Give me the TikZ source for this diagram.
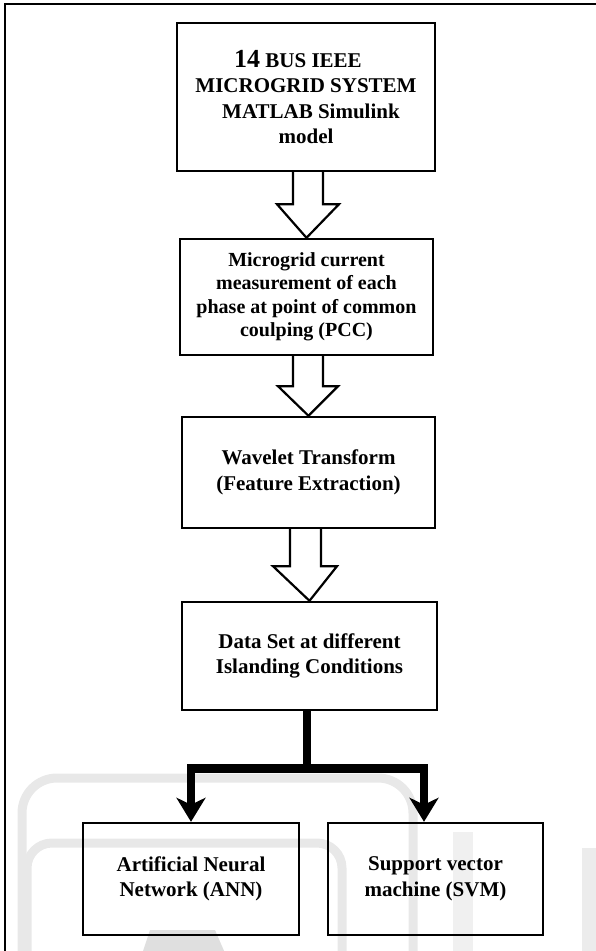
\documentclass[tikz,border=0pt]{standalone}
\usepackage{fontspec}
\setmainfont{Liberation Serif}
\usepackage{tikz}
\usetikzlibrary{positioning, calc, arrows.meta}
\tikzset{
	block/.style={draw, line width=2.4pt, inner sep=0pt, align=center, font=\bfseries\fontsize{21}{25.5}\selectfont},
	hollow/.style={line width=2.2pt, line join=miter},
	branch/.style={line width=8.5pt, line join=miter},
	branchtip/.style={-{Stealth[width=29pt, length=24pt, inset=7pt]}},
	wmline/.style={draw=gray!18, line width=9pt},
}

\begin{document}
\begin{tikzpicture}[x=1pt, y=-1pt]
			\useasboundingbox (0,0) rectangle (595,951);

			% faint page marks behind the chart
			\draw[wmline, rounded corners=35pt] (22,970) |- (413,778) -- (413,970);
			\draw[wmline, rounded corners=25pt] (27,970) |- (342,843) -- (342,970);
			\fill[gray!25] (150,930) -- (215,930) -- (228,960) -- (140,960) -- cycle;
			\fill[gray!12] (453,832) rectangle (473,960);
			\fill[gray!15] (582,848) rectangle (600,960);

			\draw[line width=2pt] (5,960) -- (5,4) -- (600,4);

			\node[block, minimum width=258pt, minimum height=148pt] (sim) at (306,97)
				{{\fontsize{26}{25.5}\selectfont 14} BUS IEEE\hspace*{16pt}\\MICROGRID SYSTEM\\\hspace*{10pt}MATLAB Simulink\\model};
			\node[block, minimum width=253pt, minimum height=116pt, font=\bfseries\fontsize{20}{23.5}\selectfont] (meas) at (306.5,297)
				{Microgrid current\\measurement of each\\phase at point of common\\coulping (PCC)};
			\node[block, minimum width=253pt, minimum height=111pt] (wave) at (308.5,472.5)
				{Wavelet Transform\\(Feature Extraction)};
			\node[block, minimum width=255pt, minimum height=108pt] (data) at (309.5,656)
				{Data Set at different\\Islanding Conditions};
			\node[block, minimum width=216pt, minimum height=112pt] (ann) at (191,879)
				{Artificial Neural\\Network (ANN)};
			\node[block, minimum width=215pt, minimum height=112pt] (svm) at (435.5,879)
				{Support vector\\machine (SVM)};

			\draw[hollow] ($(sim.south)+(-13,0)$) -- ++(0,32) -- ++(-16,0) -- (meas.north)
				-- ($(sim.south)+(33,32)$) -- ++(-16,0) -- ($(sim.south)+(17,0)$);
			\draw[hollow] ($(meas.south)+(-13.5,0)$) -- ++(0,30) -- ++(-15,0) -- (wave.north)
				-- ($(meas.south)+(31.5,30)$) -- ++(-15,0) -- ($(meas.south)+(16.5,0)$);
			\draw[hollow] ($(wave.south)+(-18.5,0)$) -- ++(0,37) -- ++(-17,0) -- (data.north)
				-- ($(wave.south)+(28.5,37)$) -- ++(-16,0) -- ($(wave.south)+(12.5,0)$);

			\draw[branch] ($(data.south)+(-2.5,0)$) -- ++(0,57.5) coordinate (split);
			\draw[branch, branchtip] (split) -| (ann.north);
			\draw[branch, branchtip] (split) -| ($(svm.north)+(-11.5,0)$);
		\end{tikzpicture}
\end{document}
